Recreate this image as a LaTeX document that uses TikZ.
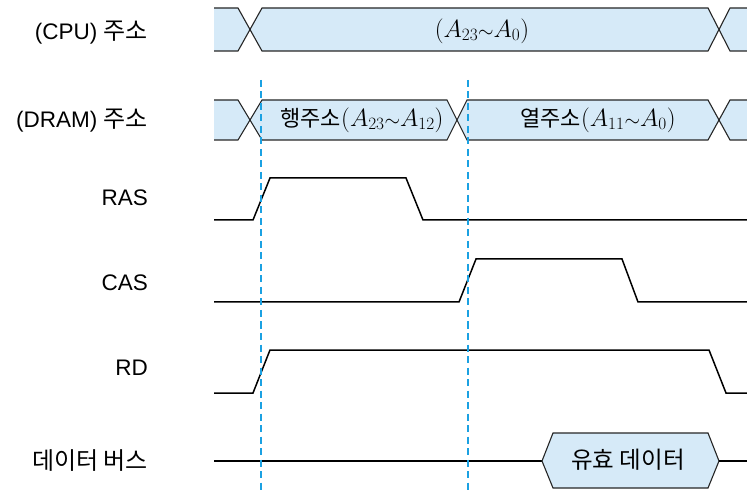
\documentclass[tikz,border=0pt]{standalone}
\usepackage[no-math]{fontspec}
\setmainfont{Liberation Sans}
\newfontfamily\kr{Noto Sans CJK KR}
\definecolor{busblue}{RGB}{214,234,248}
\definecolor{guideblue}{RGB}{27,161,226}
\newcommand{\tl}{\mathord{\scalebox{0.8}{$\sim$}}}
\newcommand{\krl}[1]{{\fontsize{24}{28}\selectfont\kr #1}}
\begin{document}
\begin{tikzpicture}[x=1pt,y=-1pt,
  busfill/.style={fill=busblue},
  busline/.style={draw=black!85,line width=1.1pt,line join=miter},
  sig/.style={draw=black,line width=1.5pt},
  guide/.style={draw=guideblue,line width=2.6pt,dash pattern=on 7pt off 4.5pt},
  lab/.style={anchor=east,font=\fontsize{22.5}{26}\selectfont,inner sep=0pt},
  btxt/.style={font=\fontsize{24.5}{28}\selectfont,inner sep=0pt},
  kb/.style={font=\fontsize{23.5}{27}\selectfont\kr,inner sep=0pt}]
\useasboundingbox (0,0) rectangle (747,494);

% ---- labels ----
\node[lab] (lcpu) at (148,33) {(CPU) \krl{주소}};
\node[lab] (ldram) at (148,121) {(DRAM) \krl{주소}};
\node[lab] (lras) at (148,198) {RAS};
\node[lab] (lcas) at (148,283) {CAS};
\node[lab] (lrd) at (148,368) {RD};
\node[lab] (ldata) at (148,461) {\krl{데이터 버스}};

% ---- CPU address bus ----
\fill[busfill] (214,8)--(238,8)--(250,29.5)--(238,51)--(214,51)--cycle;
\draw[busline] (214,8)--(238,8)--(250,29.5)--(238,51)--(214,51);
\path[busfill,busline] (262,8)--(708,8)--(719,29.5)--(708,51)--(262,51)--(250,29.5)--cycle;
\fill[busfill] (747,8)--(730,8)--(719,29.5)--(730,51)--(747,51)--cycle;
\draw[busline] (747,8)--(730,8)--(719,29.5)--(730,51)--(747,51);
\node[btxt] (cpuaddr) at (482,31) {$(A_{23}\tl A_0)$};

% ---- DRAM address bus ----
\fill[busfill] (214,100)--(238,100)--(250,120)--(238,140)--(214,140)--cycle;
\draw[busline] (214,100)--(238,100)--(250,120)--(238,140)--(214,140);
\path[busfill,busline] (262,100)--(447,100)--(457,120)--(447,140)--(262,140)--(250,120)--cycle;
\path[busfill,busline] (467,100)--(708,100)--(719,120)--(708,140)--(467,140)--(457,120)--cycle;
\fill[busfill] (747,100)--(730,100)--(719,120)--(730,140)--(747,140)--cycle;
\draw[busline] (747,100)--(730,100)--(719,120)--(730,140)--(747,140);
\node[btxt] (rowaddr) at (362,120) {{\fontsize{22}{26}\selectfont\kr 행주소}$(A_{23}\tl A_{12})$};
\node[btxt] (coladdr) at (598,120) {{\fontsize{22}{26}\selectfont\kr 열주소}$(A_{11}\tl A_{0})$};

% ---- RAS / CAS / RD ----
\draw[sig] (214,220)--(253,220)--(270,178)--(406,178)--(423,220)--(747,220);
\draw[sig] (214,302)--(459,302)--(476,259)--(622,259)--(638,302)--(747,302);
\draw[sig] (214,393)--(253,393)--(270,350)--(709,350)--(726,393)--(747,393);

% ---- data bus ----
\draw[sig] (214,461)--(542,461);
\path[busfill,busline] (542,461)--(553,433)--(708,433)--(719,461)--(708,488)--(553,488)--cycle;
\draw[sig] (719,461)--(747,461);
\node[kb] (valid) at (628,460) {유효 데이터};

% ---- guides ----
\coordinate (g1t) at (261,80); \coordinate (g1b) at (261,494);
\coordinate (g2t) at (468,80); \coordinate (g2b) at (468,494);
\draw[guide] (g1t)--(g1b);
\draw[guide] (g2t)--(g2b);
\end{tikzpicture}
\end{document}
